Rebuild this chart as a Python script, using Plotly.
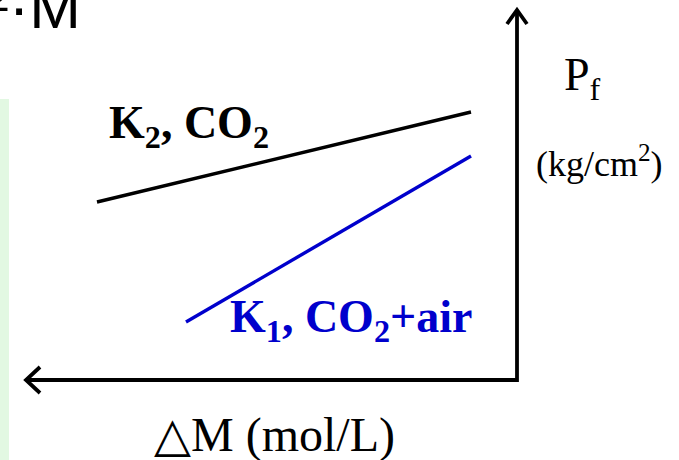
import plotly.graph_objects as go

# ---- data (schematic: dM in arbitrary units, increasing to the left; Pf upward) ----
series_names = ["K2, CO2", "K1, CO2+air"]
k2_dm = [4.20, 0.46]
k2_pf = [1.78, 2.68]
k1_dm = [3.31, 0.46]
k1_pf = [0.58, 2.24]

W, H = 679, 460
OX, OY, S = 517, 380, 100.0  # origin pixel and px per unit

def dx(px):
    return (OX - px) / S

def dy(py):
    return (OY - py) / S

BLUE = "rgb(0,0,204)"
SERIF = "Liberation Serif"

fig = go.Figure()
fig.add_trace(go.Scatter(x=k2_dm, y=k2_pf, mode="lines", name=series_names[0],
                         line=dict(color="black", width=3.4), showlegend=False, hoverinfo="skip"))
fig.add_trace(go.Scatter(x=k1_dm, y=k1_pf, mode="lines", name=series_names[1],
                         line=dict(color=BLUE, width=3.4), showlegend=False, hoverinfo="skip"))

shapes = []
# light green strip at left edge
shapes.append(dict(type="rect", xref="x", yref="y", x0=dx(0), x1=dx(9), y0=dy(99), y1=dy(H),
                   fillcolor="#e2f8e2", line=dict(width=0), layer="below"))
# axes
AX = dict(color="black", width=3.8)
shapes.append(dict(type="line", x0=0, y0=0, x1=dx(26), y1=0, line=AX))
shapes.append(dict(type="line", x0=0, y0=dy(OY + 2), x1=0, y1=dy(10), line=AX))
# arrowheads (open chevrons)
shapes.append(dict(type="path", path=f"M {dx(40)},{dy(OY-13)} L {dx(26)},{0} L {dx(40)},{dy(OY+13)}", line=AX))
shapes.append(dict(type="path", path=f"M {dx(OX-10)},{dy(24)} L {0},{dy(10)} L {dx(OX+10)},{dy(24)}", line=AX))

annotations = [
    dict(x=dx(107), y=dy(126), xanchor="left", yanchor="middle", showarrow=False,
         text="<b>K<sub>2</sub>, CO<sub>2</sub></b>", font=dict(family=SERIF, size=46, color="black")),
    dict(x=dx(228), y=dy(320), xanchor="left", yanchor="middle", showarrow=False,
         text="<b>K<sub>1</sub>, CO<sub>2</sub>+air</b>", font=dict(family=SERIF, size=46, color=BLUE)),
    dict(x=dx(562), y=dy(78), xanchor="left", yanchor="middle", showarrow=False,
         text="P<sub>f</sub>", font=dict(family=SERIF, size=46, color="black")),
    dict(x=dx(534), y=dy(161), xanchor="left", yanchor="middle", showarrow=False,
         text="(kg/cm<sup>2</sup>)", font=dict(family=SERIF, size=36, color="black")),
    dict(x=dx(152), y=dy(435), xanchor="left", yanchor="middle", showarrow=False,
         text="△M (mol/L)", font=dict(family=SERIF, size=48, color="black")),
    dict(x=dx(83), y=dy(6), xanchor="right", yanchor="middle", showarrow=False,
         text="²·M", font=dict(family="Liberation Sans", size=62, color="black")),
]

fig.update_layout(
    width=W, height=H, margin=dict(l=0, r=0, t=0, b=0),
    paper_bgcolor="white", plot_bgcolor="white",
    xaxis=dict(range=[dx(0), dx(W)], visible=False, fixedrange=True),
    yaxis=dict(range=[dy(H), dy(0)], visible=False, fixedrange=True),
    shapes=shapes, annotations=annotations, showlegend=False,
)
fig.write_html("out.html", config={"displayModeBar": False},
               post_script="document.body.style.margin='0';document.body.style.overflow='hidden';")
